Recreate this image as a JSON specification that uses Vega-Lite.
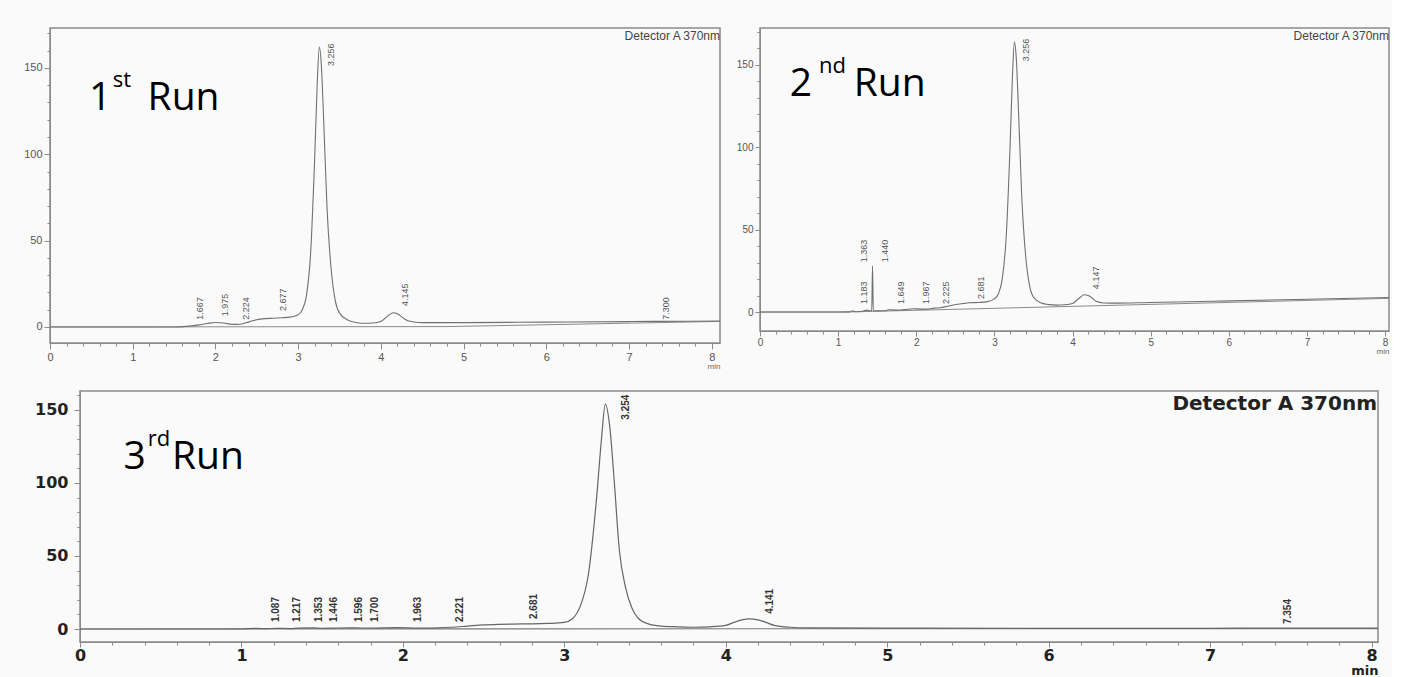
{
  "$schema": "https://vega.github.io/schema/vega-lite/v6.json",
  "background": "#fafafa",
  "padding": {"left": 22, "top": 27, "right": 0, "bottom": 0},
  "autosize": {"type": "pad"},
  "spacing": 14,
  "config": {
    "view": {"stroke": "#8a8a8a", "strokeWidth": 1.5},
    "axis": {"grid": false, "domainColor": "#8a8a8a", "tickColor": "#8a8a8a", "labelColor": "#555555", "labelFont": "Liberation Sans", "labelOverlap": false, "labelFlush": false, "titleFont": "Liberation Sans"},
    "text": {"font": "Liberation Sans"}
  },
  "datasets": {
    "run1": [
      {"t":0,"mAU":0},{"t":0.5,"mAU":0},{"t":1,"mAU":0},{"t":1.5,"mAU":0},{"t":1.65,"mAU":0.3},{"t":1.8,"mAU":1.2},{"t":1.9,"mAU":2},{"t":2.0,"mAU":2.6},{"t":2.1,"mAU":2.3},{"t":2.2,"mAU":1.5},{"t":2.3,"mAU":1.6},{"t":2.4,"mAU":2.8},{"t":2.5,"mAU":4.2},{"t":2.6,"mAU":4.8},{"t":2.7,"mAU":5},{"t":2.8,"mAU":5.3},{"t":2.9,"mAU":5.7},{"t":3.0,"mAU":7},{"t":3.05,"mAU":10},{"t":3.1,"mAU":18},{"t":3.15,"mAU":42},{"t":3.2,"mAU":98},{"t":3.23,"mAU":140},{"t":3.256,"mAU":162},{"t":3.28,"mAU":152},{"t":3.31,"mAU":118},{"t":3.35,"mAU":68},{"t":3.4,"mAU":33},{"t":3.45,"mAU":15},{"t":3.5,"mAU":8},{"t":3.6,"mAU":4},{"t":3.7,"mAU":2.6},{"t":3.8,"mAU":2.1},{"t":3.9,"mAU":2.3},{"t":4.0,"mAU":3.2},{"t":4.05,"mAU":5},{"t":4.1,"mAU":7},{"t":4.15,"mAU":8.2},{"t":4.2,"mAU":7.6},{"t":4.25,"mAU":6},{"t":4.3,"mAU":4.2},{"t":4.4,"mAU":2.9},{"t":4.5,"mAU":2.5},{"t":5,"mAU":2.5},{"t":6,"mAU":2.8},{"t":7,"mAU":3.1},{"t":7.3,"mAU":3.2},{"t":8.1,"mAU":3.4}
    ],
    "base1": [{"t":0,"mAU":0},{"t":4.8,"mAU":0.2},{"t":8.1,"mAU":3.2}],
    "peaks1": [
      {"t":1.667,"h":3,"label":"1.667"},{"t":1.975,"h":5,"label":"1.975"},{"t":2.224,"h":3,"label":"2.224"},{"t":2.677,"h":8,"label":"2.677"},{"t":3.256,"h":150,"label":"3.256"},{"t":4.145,"h":11,"label":"4.145"},{"t":7.3,"h":3,"label":"7.300"}
    ],
    "runs1": [
      {"t":0.47,"v":125.6,"txt":"1","kind":"main"},{"t":0.76,"v":139,"txt":"st","kind":"sup"},{"t":1.18,"v":125.6,"txt":"Run","kind":"main"}
    ],
    "run2": [
      {"t":0,"mAU":0},{"t":0.5,"mAU":0},{"t":1.0,"mAU":0},{"t":1.15,"mAU":0.1},{"t":1.183,"mAU":0.7},{"t":1.22,"mAU":0.2},{"t":1.3,"mAU":0.3},{"t":1.363,"mAU":1.2},{"t":1.41,"mAU":0.7},{"t":1.43,"mAU":0.9},{"t":1.44,"mAU":28},{"t":1.45,"mAU":0.9},{"t":1.5,"mAU":0.7},{"t":1.6,"mAU":0.8},{"t":1.649,"mAU":1.4},{"t":1.75,"mAU":1.2},{"t":1.85,"mAU":1.5},{"t":1.967,"mAU":2.0},{"t":2.05,"mAU":1.8},{"t":2.15,"mAU":1.8},{"t":2.225,"mAU":2.4},{"t":2.3,"mAU":2.6},{"t":2.4,"mAU":3.5},{"t":2.5,"mAU":4.6},{"t":2.6,"mAU":5.2},{"t":2.681,"mAU":5.6},{"t":2.8,"mAU":5.8},{"t":2.9,"mAU":6.2},{"t":3.0,"mAU":8},{"t":3.05,"mAU":11},{"t":3.1,"mAU":20},{"t":3.15,"mAU":45},{"t":3.2,"mAU":100},{"t":3.23,"mAU":142},{"t":3.256,"mAU":164},{"t":3.28,"mAU":154},{"t":3.31,"mAU":120},{"t":3.35,"mAU":70},{"t":3.4,"mAU":34},{"t":3.45,"mAU":16},{"t":3.5,"mAU":9},{"t":3.6,"mAU":5.5},{"t":3.7,"mAU":4.5},{"t":3.8,"mAU":4.2},{"t":3.9,"mAU":4.4},{"t":4.0,"mAU":5.2},{"t":4.05,"mAU":7},{"t":4.1,"mAU":9},{"t":4.147,"mAU":10.5},{"t":4.2,"mAU":10},{"t":4.25,"mAU":8.5},{"t":4.3,"mAU":6.5},{"t":4.4,"mAU":5.5},{"t":4.5,"mAU":5.4},{"t":5,"mAU":5.8},{"t":6,"mAU":6.8},{"t":7,"mAU":7.8},{"t":8.05,"mAU":8.8}
    ],
    "base2": [{"t":0,"mAU":0},{"t":1.1,"mAU":0},{"t":8.05,"mAU":8.3}],
    "peaks2": [
      {"t":1.183,"lx":1.183,"h":3.6,"label":"1.183"},{"t":1.363,"lx":1.183,"h":29,"label":"1.363"},{"t":1.44,"lx":1.44,"h":29,"label":"1.440"},{"t":1.649,"lx":1.649,"h":3.6,"label":"1.649"},{"t":1.967,"lx":1.967,"h":3.6,"label":"1.967"},{"t":2.225,"lx":2.225,"h":3.6,"label":"2.225"},{"t":2.681,"lx":2.681,"h":6.7,"label":"2.681"},{"t":3.256,"lx":3.256,"h":151,"label":"3.256"},{"t":4.147,"lx":4.147,"h":12.7,"label":"4.147"}
    ],
    "runs2": [
      {"t":0.38,"v":131,"txt":"2","kind":"main"},{"t":0.755,"v":145,"txt":"nd","kind":"sup"},{"t":1.2,"v":131,"txt":"Run","kind":"main"}
    ],
    "run3": [
      {"t":0,"mAU":0},{"t":0.5,"mAU":0},{"t":1.0,"mAU":0},{"t":1.087,"mAU":0.4},{"t":1.15,"mAU":0.2},{"t":1.217,"mAU":0.5},{"t":1.3,"mAU":0.3},{"t":1.353,"mAU":0.6},{"t":1.446,"mAU":0.8},{"t":1.5,"mAU":0.5},{"t":1.596,"mAU":0.7},{"t":1.7,"mAU":0.8},{"t":1.8,"mAU":0.6},{"t":1.963,"mAU":0.9},{"t":2.1,"mAU":0.6},{"t":2.221,"mAU":0.8},{"t":2.3,"mAU":1.2},{"t":2.4,"mAU":2},{"t":2.5,"mAU":2.8},{"t":2.6,"mAU":3.2},{"t":2.681,"mAU":3.4},{"t":2.8,"mAU":3.5},{"t":2.9,"mAU":3.8},{"t":3.0,"mAU":4.5},{"t":3.05,"mAU":7},{"t":3.1,"mAU":16},{"t":3.15,"mAU":38},{"t":3.2,"mAU":90},{"t":3.23,"mAU":130},{"t":3.254,"mAU":154},{"t":3.28,"mAU":140},{"t":3.31,"mAU":100},{"t":3.34,"mAU":55},{"t":3.38,"mAU":28},{"t":3.42,"mAU":14},{"t":3.46,"mAU":7},{"t":3.52,"mAU":3.5},{"t":3.6,"mAU":2},{"t":3.7,"mAU":1.5},{"t":3.8,"mAU":1.2},{"t":3.9,"mAU":1.5},{"t":4.0,"mAU":2.5},{"t":4.05,"mAU":4.5},{"t":4.1,"mAU":6.2},{"t":4.141,"mAU":7},{"t":4.2,"mAU":6.3},{"t":4.25,"mAU":4.5},{"t":4.3,"mAU":2.5},{"t":4.4,"mAU":1.2},{"t":4.5,"mAU":0.8},{"t":5,"mAU":0.6},{"t":6,"mAU":0.5},{"t":7,"mAU":0.5},{"t":7.354,"mAU":0.7},{"t":8.04,"mAU":0.6}
    ],
    "base3": [{"t":0,"mAU":0},{"t":8.04,"mAU":0.3}],
    "peaks3": [
      {"t":1.087,"h":3.4,"label":"1.087"},{"t":1.217,"h":3.4,"label":"1.217"},{"t":1.353,"h":3.4,"label":"1.353"},{"t":1.446,"h":3.4,"label":"1.446"},{"t":1.596,"h":3.4,"label":"1.596"},{"t":1.7,"h":3.4,"label":"1.700"},{"t":1.963,"h":3.4,"label":"1.963"},{"t":2.221,"h":3.4,"label":"2.221"},{"t":2.681,"h":5.5,"label":"2.681"},{"t":3.254,"h":142,"label":"3.254"},{"t":4.141,"h":9,"label":"4.141"},{"t":7.354,"h":2,"label":"7.354"}
    ],
    "runs3": [
      {"t":0.27,"v":109.6,"txt":"3","kind":"main"},{"t":0.42,"v":125,"txt":"rd","kind":"sup"},{"t":0.57,"v":109.6,"txt":"Run","kind":"main"}
    ]
  },
  "vconcat": [
    {
      "hconcat": [
        {
          "width": 670, "height": 315,
          "resolve": {"axis": {"x": "independent", "y": "independent"}},
          "layer": [
            {"data": {"name": "base1"}, "mark": {"type": "line", "color": "#8a8a8a", "strokeWidth": 1},
             "encoding": {
               "x": {"field": "t", "type": "quantitative", "scale": {"domain": [0, 8.1], "nice": false, "zero": false},
                 "axis": {"orient": "bottom", "values": [0,1,2,3,4,5,6,7,8], "format": "d", "tickSize": 6,
                   "labelFontSize": 11, "labelPadding": 2, "title": "min", "titleAnchor": "end", "titleFontSize": 8, "titleFontWeight": "normal", "titleColor": "#666666", "titlePadding": 0}},
               "y": {"field": "mAU", "type": "quantitative", "scale": {"domain": [-9.3, 173.1], "nice": false, "zero": false},
                 "axis": {"orient": "left", "values": [0,50,100,150], "format": "d", "tickSize": 6, "labelFontSize": 11, "labelPadding": 2, "title": null}}
             }},
            {"data": {"name": "run1"}, "mark": {"type": "line", "color": "#707070", "strokeWidth": 1.1, "interpolate": "monotone"},
             "encoding": {
               "x": {"field": "t", "type": "quantitative",
                 "axis": {"orient": "bottom", "values": [0,0.2,0.4,0.6,0.8,1,1.2,1.4,1.6,1.8,2,2.2,2.4,2.6,2.8,3,3.2,3.4,3.6,3.8,4,4.2,4.4,4.6,4.8,5,5.2,5.4,5.6,5.8,6,6.2,6.4,6.6,6.8,7,7.2,7.4,7.6,7.8,8], "labels": false, "domain": false, "tickSize": 3, "title": null}},
               "y": {"field": "mAU", "type": "quantitative",
                 "axis": {"orient": "left", "values": [0,10,20,30,40,50,60,70,80,90,100,110,120,130,140,150,160,170], "labels": false, "domain": false, "tickSize": 3, "title": null}}
             }},
            {"data": {"name": "peaks1"}, "mark": {"type": "text", "angle": 270, "align": "left", "baseline": "middle", "fontSize": 9, "xOffset": 12, "yOffset": -2, "color": "#555555"},
             "encoding": {"x": {"field": "t", "type": "quantitative", "axis": null}, "y": {"field": "h", "type": "quantitative", "axis": null}, "text": {"field": "label"}}},
            {"data": {"values": [{"txt": "Detector A 370nm"}]}, "mark": {"type": "text", "align": "right", "baseline": "top", "fontSize": 12, "dx": 0, "dy": 3, "color": "#444444"},
             "encoding": {"x": {"datum": 8.1, "axis": null}, "y": {"datum": 173.1, "axis": null}, "text": {"field": "txt"}}},
            {"data": {"name": "runs1"}, "transform": [{"filter": "datum.kind == 'main'"}], "mark": {"type": "text", "align": "left", "baseline": "alphabetic", "font": "Open Sans", "fontSize": 39, "color": "#000000"},
             "encoding": {"x": {"field": "t", "type": "quantitative", "axis": null}, "y": {"field": "v", "type": "quantitative", "axis": null}, "text": {"field": "txt"}}},
            {"data": {"name": "runs1"}, "transform": [{"filter": "datum.kind == 'sup'"}], "mark": {"type": "text", "align": "left", "baseline": "alphabetic", "font": "Open Sans", "fontSize": 22, "color": "#000000"},
             "encoding": {"x": {"field": "t", "type": "quantitative", "axis": null}, "y": {"field": "v", "type": "quantitative", "axis": null}, "text": {"field": "txt"}}}
          ]
        },
        {
          "width": 629, "height": 303,
          "resolve": {"axis": {"x": "independent", "y": "independent"}},
          "layer": [
            {"data": {"name": "base2"}, "mark": {"type": "line", "color": "#8a8a8a", "strokeWidth": 1},
             "encoding": {
               "x": {"field": "t", "type": "quantitative", "scale": {"domain": [0, 8.05], "nice": false, "zero": false},
                 "axis": {"orient": "bottom", "values": [0,1,2,3,4,5,6,7,8], "format": "d", "tickSize": 5,
                   "labelFontSize": 10, "labelPadding": 1, "title": "min", "titleAnchor": "end", "titleFontSize": 8, "titleFontWeight": "normal", "titleColor": "#666666", "titlePadding": 0}},
               "y": {"field": "mAU", "type": "quantitative", "scale": {"domain": [-11.5, 172.4], "nice": false, "zero": false},
                 "axis": {"orient": "left", "values": [0,50,100,150], "format": "d", "tickSize": 5, "labelFontSize": 10, "labelPadding": 2, "title": null}}
             }},
            {"data": {"name": "run2"}, "mark": {"type": "line", "color": "#707070", "strokeWidth": 1.1, "interpolate": "monotone"},
             "encoding": {
               "x": {"field": "t", "type": "quantitative",
                 "axis": {"orient": "bottom", "values": [0,0.2,0.4,0.6,0.8,1,1.2,1.4,1.6,1.8,2,2.2,2.4,2.6,2.8,3,3.2,3.4,3.6,3.8,4,4.2,4.4,4.6,4.8,5,5.2,5.4,5.6,5.8,6,6.2,6.4,6.6,6.8,7,7.2,7.4,7.6,7.8,8], "labels": false, "domain": false, "tickSize": 3, "title": null}},
               "y": {"field": "mAU", "type": "quantitative",
                 "axis": {"orient": "left", "values": [0,10,20,30,40,50,60,70,80,90,100,110,120,130,140,150,160,170], "labels": false, "domain": false, "tickSize": 3, "title": null}}
             }},
            {"data": {"name": "peaks2"}, "mark": {"type": "text", "angle": 270, "align": "left", "baseline": "middle", "fontSize": 9, "xOffset": 12, "yOffset": -2, "color": "#555555"},
             "encoding": {"x": {"field": "lx", "type": "quantitative", "axis": null}, "y": {"field": "h", "type": "quantitative", "axis": null}, "text": {"field": "label"}}},
            {"data": {"values": [{"txt": "Detector A 370nm"}]}, "mark": {"type": "text", "align": "right", "baseline": "top", "fontSize": 12, "dx": 0, "dy": 3, "color": "#444444"},
             "encoding": {"x": {"datum": 8.05, "axis": null}, "y": {"datum": 172.4, "axis": null}, "text": {"field": "txt"}}},
            {"data": {"name": "runs2"}, "transform": [{"filter": "datum.kind == 'main'"}], "mark": {"type": "text", "align": "left", "baseline": "alphabetic", "font": "Open Sans", "fontSize": 39, "color": "#000000"},
             "encoding": {"x": {"field": "t", "type": "quantitative", "axis": null}, "y": {"field": "v", "type": "quantitative", "axis": null}, "text": {"field": "txt"}}},
            {"data": {"name": "runs2"}, "transform": [{"filter": "datum.kind == 'sup'"}], "mark": {"type": "text", "align": "left", "baseline": "alphabetic", "font": "Open Sans", "fontSize": 22, "color": "#000000"},
             "encoding": {"x": {"field": "t", "type": "quantitative", "axis": null}, "y": {"field": "v", "type": "quantitative", "axis": null}, "text": {"field": "txt"}}}
          ]
        }
      ],
      "spacing": 40,
      "bounds": "flush"
    },
    {
      "hconcat": [
        {"width": 30, "height": 1, "data": {"values": [{"txt": ""}]}, "mark": {"type": "text"}, "encoding": {"text": {"field": "txt"}}, "view": {"stroke": "transparent", "fill": "transparent"}},
        {
          "width": 1298, "height": 251,
          "resolve": {"axis": {"x": "independent", "y": "independent"}},
          "layer": [
            {"data": {"name": "base3"}, "mark": {"type": "line", "color": "#7a7a7a", "strokeWidth": 1.2},
             "encoding": {
               "x": {"field": "t", "type": "quantitative", "scale": {"domain": [0, 8.04], "nice": false, "zero": false},
                 "axis": {"orient": "bottom", "values": [0,1,2,3,4,5,6,7,8], "format": "d", "tickSize": 5,
                   "labelFont": "DejaVu Sans", "labelFontWeight": "bold", "labelFontSize": 16, "labelColor": "#222222", "labelPadding": 0,
                   "title": "min", "titleAnchor": "end", "titleFont": "DejaVu Sans", "titleFontSize": 13, "titleFontWeight": "bold", "titleColor": "#222222", "titlePadding": 1}},
               "y": {"field": "mAU", "type": "quantitative", "scale": {"domain": [-8.9, 163], "nice": false, "zero": false},
                 "axis": {"orient": "left", "values": [0,50,100,150], "format": "d", "tickSize": 6,
                   "labelFont": "DejaVu Sans", "labelFontWeight": "bold", "labelFontSize": 16, "labelColor": "#222222", "labelPadding": 6, "title": null}}
             }},
            {"data": {"name": "run3"}, "mark": {"type": "line", "color": "#666666", "strokeWidth": 1.2, "interpolate": "monotone"},
             "encoding": {
               "x": {"field": "t", "type": "quantitative",
                 "axis": {"orient": "bottom", "values": [0,0.2,0.4,0.6,0.8,1,1.2,1.4,1.6,1.8,2,2.2,2.4,2.6,2.8,3,3.2,3.4,3.6,3.8,4,4.2,4.4,4.6,4.8,5,5.2,5.4,5.6,5.8,6,6.2,6.4,6.6,6.8,7,7.2,7.4,7.6,7.8,8], "labels": false, "domain": false, "tickSize": 3, "title": null}},
               "y": {"field": "mAU", "type": "quantitative",
                 "axis": {"orient": "left", "values": [0,10,20,30,40,50,60,70,80,90,100,110,120,130,140,150,160], "labels": false, "domain": false, "tickSize": 3, "title": null}}
             }},
            {"data": {"name": "peaks3"}, "mark": {"type": "text", "angle": 270, "align": "left", "baseline": "middle", "fontSize": 10, "fontWeight": "bold", "xOffset": 21, "yOffset": -2, "color": "#333333"},
             "encoding": {"x": {"field": "t", "type": "quantitative", "axis": null}, "y": {"field": "h", "type": "quantitative", "axis": null}, "text": {"field": "label"}}},
            {"data": {"values": [{"txt": "Detector A 370nm"}]}, "mark": {"type": "text", "align": "right", "baseline": "top", "font": "DejaVu Sans", "fontWeight": "bold", "fontSize": 20, "dx": -1, "dy": 3, "color": "#222222"},
             "encoding": {"x": {"datum": 8.04, "axis": null}, "y": {"datum": 163, "axis": null}, "text": {"field": "txt"}}},
            {"data": {"name": "runs3"}, "transform": [{"filter": "datum.kind == 'main'"}], "mark": {"type": "text", "align": "left", "baseline": "alphabetic", "font": "Open Sans", "fontSize": 39, "color": "#000000"},
             "encoding": {"x": {"field": "t", "type": "quantitative", "axis": null}, "y": {"field": "v", "type": "quantitative", "axis": null}, "text": {"field": "txt"}}},
            {"data": {"name": "runs3"}, "transform": [{"filter": "datum.kind == 'sup'"}], "mark": {"type": "text", "align": "left", "baseline": "alphabetic", "font": "Open Sans", "fontSize": 22, "color": "#000000"},
             "encoding": {"x": {"field": "t", "type": "quantitative", "axis": null}, "y": {"field": "v", "type": "quantitative", "axis": null}, "text": {"field": "txt"}}}
          ]
        }
      ],
      "spacing": 0,
      "bounds": "flush"
    }
  ]
}
